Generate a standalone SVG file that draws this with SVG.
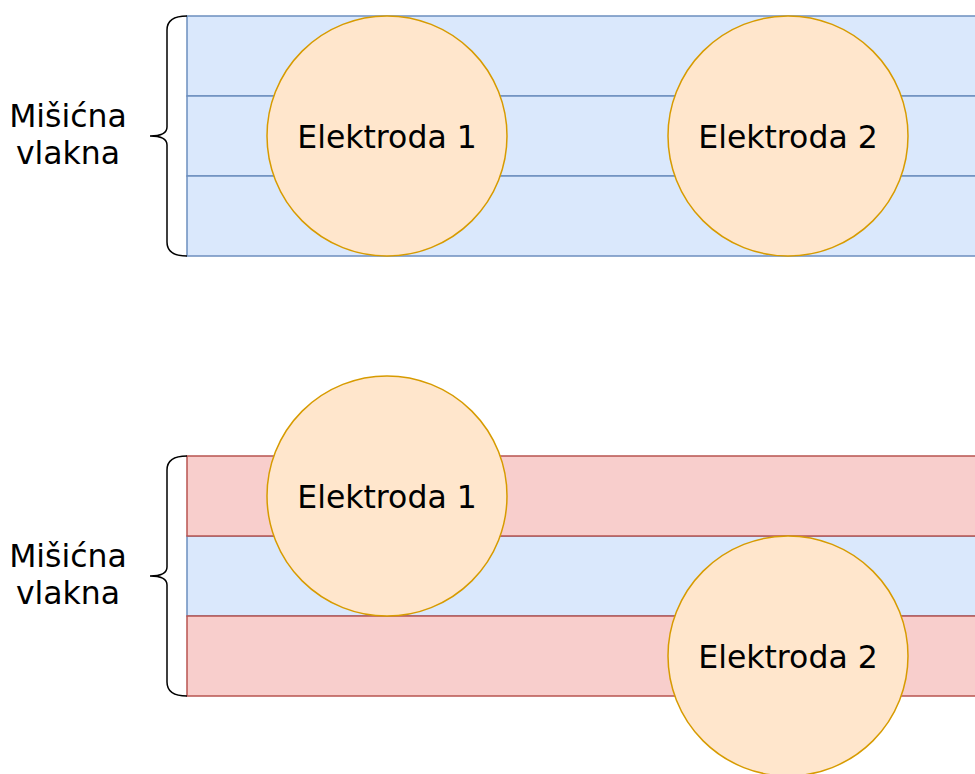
<svg xmlns="http://www.w3.org/2000/svg" width="975" height="774" viewBox="0 0 975 774">
  <style>
    .fiber-blue { fill: #dae8fc; stroke: #6c8ebf; stroke-width: 1.5; }
    .fiber-red { fill: #f8cecc; stroke: #b85450; stroke-width: 1.5; }
    .electrode { fill: #ffe6cc; stroke: #d79b00; stroke-width: 1.5; }
    .brace { fill: none; stroke: #000; stroke-width: 1.5; }
    .label { font-family: "DejaVu Sans", Verdana, sans-serif; font-size: 31.5px; fill: #000; text-anchor: middle; }
  </style>
  <rect width="975" height="774" fill="#ffffff"/>

  <!-- Upper case: all fibers at rest -->
  <g id="fibers-top">
    <rect class="fiber-blue" x="187" y="16" width="800" height="80"/>
    <rect class="fiber-blue" x="187" y="96" width="800" height="80"/>
    <rect class="fiber-blue" x="187" y="176" width="800" height="80"/>
  </g>
  <g id="brace-top">
    <path class="brace" d="M187,16 Q167,16 167,30 L167,127 Q167,136 150,136 Q167,136 167,145 L167,242 Q167,256 187,256"/>
    <text class="label" x="68" y="127">Mišićna</text>
    <text class="label" x="68" y="164">vlakna</text>
  </g>
  <g id="electrode-1-top">
    <circle class="electrode" cx="387" cy="136" r="120"/>
    <text class="label" x="387" y="147.5">Elektroda 1</text>
  </g>
  <g id="electrode-2-top">
    <circle class="electrode" cx="788" cy="136" r="120"/>
    <text class="label" x="788" y="147.5">Elektroda 2</text>
  </g>

  <!-- Lower case: outer fibers active -->
  <g id="fibers-bottom">
    <rect class="fiber-blue" x="187" y="536" width="800" height="80"/>
    <rect class="fiber-red" x="187" y="456" width="800" height="80"/>
    <rect class="fiber-red" x="187" y="616" width="800" height="80"/>
  </g>
  <g id="brace-bottom">
    <path class="brace" d="M187,456 Q167,456 167,470 L167,567 Q167,576 150,576 Q167,576 167,585 L167,682 Q167,696 187,696"/>
    <text class="label" x="68" y="567">Mišićna</text>
    <text class="label" x="68" y="604">vlakna</text>
  </g>
  <g id="electrode-1-bottom">
    <circle class="electrode" cx="387" cy="496" r="120"/>
    <text class="label" x="387" y="507.5">Elektroda 1</text>
  </g>
  <g id="electrode-2-bottom">
    <circle class="electrode" cx="788" cy="656" r="120"/>
    <text class="label" x="788" y="667.5">Elektroda 2</text>
  </g>

  <g id="connectors"/>
</svg>
